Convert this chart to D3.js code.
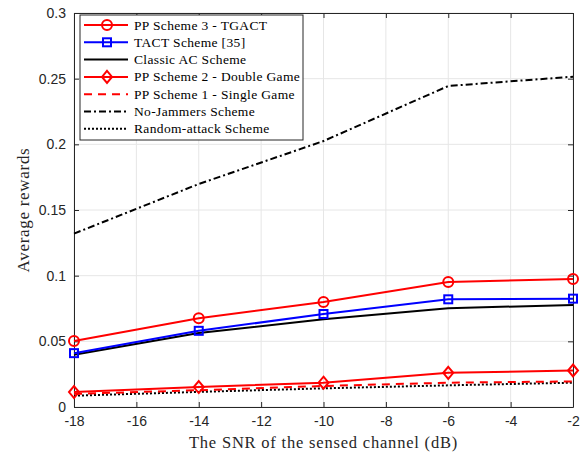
<!DOCTYPE html>
<html>
<head>
<meta charset="utf-8">
<script src="https://cdn.jsdelivr.net/npm/d3@7"></script>
<style>
  body { margin: 0; background: #fff; }
  .tick text { font-family: "Liberation Sans", Arial, sans-serif; font-size: 14px; fill: #262626; }
</style>
</head>
<body>
<div id="chart"></div>
<script>
const snr = [-18, -14, -10, -6, -2];
const xTicks = [-18, -16, -14, -12, -10, -8, -6, -4, -2];
const yTicks = [0, 0.05, 0.1, 0.15, 0.2, 0.25, 0.3];

const ppScheme3 = [0.0502, 0.0675, 0.0800, 0.0952, 0.0975];
const tact = [0.0410, 0.0580, 0.0708, 0.0820, 0.0825];
const classicAC = [0.0398, 0.0563, 0.0668, 0.0752, 0.0777];
const ppScheme2 = [0.0114, 0.0152, 0.0185, 0.0260, 0.0278];
const ppScheme1 = [0.0100, 0.0128, 0.0160, 0.0185, 0.0195];
const noJammers = [0.1320, 0.1698, 0.2025, 0.2444, 0.2515];
const randomAttack = [0.0086, 0.0115, 0.0142, 0.0165, 0.0185];

const series = [
  { name: 'PP Scheme 3 - TGACT', values: ppScheme3, color: '#ff0000', dash: null, marker: 'circle' },
  { name: 'TACT Scheme [35]', values: tact, color: '#0000ff', dash: null, marker: 'square' },
  { name: 'Classic AC Scheme', values: classicAC, color: '#000000', dash: null, marker: null },
  { name: 'PP Scheme 2 - Double Game', values: ppScheme2, color: '#ff0000', dash: null, marker: 'diamond' },
  { name: 'PP Scheme 1 - Single Game', values: ppScheme1, color: '#ff0000', dash: '8,6', marker: null },
  { name: 'No-Jammers Scheme', values: noJammers, color: '#000000', dash: '7,3,2,3', marker: null },
  { name: 'Random-attack Scheme', values: randomAttack, color: '#000000', dash: '2,2', marker: null }
];

const width = 582, height = 455;
const margin = { top: 13, right: 9, bottom: 48, left: 74 };
const plotWidth = width - margin.left - margin.right;
const plotHeight = height - margin.top - margin.bottom;
const serif = '"Liberation Serif", "DejaVu Serif", serif';

const svg = d3.select('#chart').append('svg')
  .attr('width', width)
  .attr('height', height);

const plot = svg.append('g')
  .attr('transform', `translate(${margin.left},${margin.top})`);

const x = d3.scaleLinear().domain([-18, -2]).range([0, plotWidth]);
const y = d3.scaleLinear().domain([0, 0.3]).range([plotHeight, 0]);

// grid
plot.append('g').selectAll('line').data(xTicks).join('line')
  .attr('x1', d => x(d)).attr('x2', d => x(d))
  .attr('y1', 0).attr('y2', plotHeight)
  .attr('stroke', '#e6e6e6').attr('stroke-width', 1);
plot.append('g').selectAll('line').data(yTicks).join('line')
  .attr('x1', 0).attr('x2', plotWidth)
  .attr('y1', d => y(d)).attr('y2', d => y(d))
  .attr('stroke', '#e6e6e6').attr('stroke-width', 1);

// axes (box with inner ticks)
const fmtX = d => String(d);  // plain hyphen, as in the figure
const fmtY = d => d === 0 ? '0' : String(+d.toFixed(2));
plot.append('g')
  .attr('transform', `translate(0,${plotHeight})`)
  .call(d3.axisBottom(x).tickValues(xTicks).tickSizeInner(-5).tickSizeOuter(0).tickPadding(9).tickFormat(fmtX))
  .call(g => g.select('.domain').attr('stroke', '#262626'));
plot.append('g')
  .call(d3.axisTop(x).tickValues(xTicks).tickSizeInner(-5).tickSizeOuter(0).tickFormat(''))
  .call(g => g.select('.domain').attr('stroke', '#262626'));
plot.append('g')
  .call(d3.axisLeft(y).tickValues(yTicks).tickSizeInner(-5).tickSizeOuter(0).tickPadding(8).tickFormat(fmtY))
  .call(g => g.select('.domain').attr('stroke', '#262626'));
plot.append('g')
  .attr('transform', `translate(${plotWidth},0)`)
  .call(d3.axisRight(y).tickValues(yTicks).tickSizeInner(-5).tickSizeOuter(0).tickFormat(''))
  .call(g => g.select('.domain').attr('stroke', '#262626'));
plot.selectAll('.tick line').attr('stroke', '#262626');

// lines
const line = d3.line().x((d, i) => x(snr[i])).y(d => y(d));

function drawMarker(g, type, cx, cy, color) {
  if (type === 'circle') {
    g.append('circle').attr('cx', cx).attr('cy', cy).attr('r', 5)
      .attr('fill', 'none').attr('stroke', color).attr('stroke-width', 2);
  } else if (type === 'square') {
    g.append('rect').attr('x', cx - 4).attr('y', cy - 4).attr('width', 8).attr('height', 8)
      .attr('fill', 'none').attr('stroke', color).attr('stroke-width', 2);
  } else if (type === 'diamond') {
    g.append('path')
      .attr('d', `M${cx},${cy - 6}L${cx + 5},${cy}L${cx},${cy + 6}L${cx - 5},${cy}Z`)
      .attr('fill', 'none').attr('stroke', color).attr('stroke-width', 2);
  }
}

const drawOrder = [5, 2, 1, 0, 6, 4, 3];
drawOrder.forEach(k => {
  const s = series[k];
  const g = plot.append('g');
  g.append('path').datum(s.values)
    .attr('d', line)
    .attr('fill', 'none')
    .attr('stroke', s.color)
    .attr('stroke-width', 2)
    .attr('stroke-dasharray', s.dash);
  if (s.marker) {
    s.values.forEach((v, i) => drawMarker(g, s.marker, x(snr[i]), y(v), s.color));
  }
});

// legend
const legend = svg.append('g').attr('transform', 'translate(80,15)');
legend.append('rect')
  .attr('width', 223).attr('height', 125)
  .attr('fill', '#fff').attr('stroke', '#262626').attr('stroke-width', 1);
series.forEach((s, i) => {
  const ly = 10 + i * 17.3;
  const row = legend.append('g');
  row.append('line')
    .attr('x1', 4).attr('x2', 48).attr('y1', ly).attr('y2', ly)
    .attr('stroke', s.color).attr('stroke-width', 2)
    .attr('stroke-dasharray', s.dash);
  if (s.marker) drawMarker(row, s.marker, 27, ly, s.color);
  row.append('text')
    .attr('x', 54).attr('y', ly + 4.5)
    .attr('font-family', serif)
    .attr('font-size', 13.5)
    .attr('letter-spacing', 0.35)
    .attr('fill', '#000')
    .text(s.name);
});

// axis labels
svg.append('text')
  .attr('x', margin.left + plotWidth / 2).attr('y', 448)
  .attr('text-anchor', 'middle')
  .attr('font-family', serif)
  .attr('font-size', 16.5)
  .attr('letter-spacing', 0.8)
  .attr('fill', '#262626')
  .text('The SNR of the sensed channel (dB)');
svg.append('text')
  .attr('transform', `translate(29,${margin.top + plotHeight / 2}) rotate(-90)`)
  .attr('text-anchor', 'middle')
  .attr('font-family', serif)
  .attr('font-size', 17)
  .attr('letter-spacing', 0.7)
  .attr('fill', '#262626')
  .text('Average rewards');
</script>
</body>
</html>
